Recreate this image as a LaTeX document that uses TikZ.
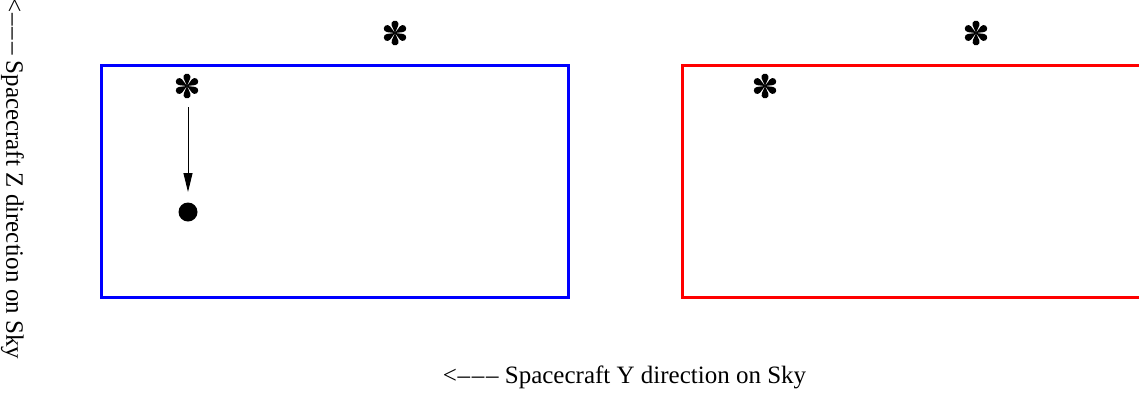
\documentclass[tikz,border=0pt]{standalone}
\usepackage{fontspec}
\setmainfont{Liberation Serif}
\usetikzlibrary{arrows.meta}
\newcommand{\arrowdash}{<\kern0.3pt–\kern0.9pt–\kern0.9pt–}
\begin{document}
\begin{tikzpicture}[x=0.5pt,y=-0.5pt,
  frame/.style={line width=1.5pt},
  lbl/.style={font=\fontsize{12.5}{14}\selectfont, inner sep=0pt},
  ptr/.style={line width=0.5pt, -{Triangle[width=4.5pt,length=9.5pt]}},
  aster/.pic={
    \foreach \a in {90,30,-30,-90,-150,150}
      \fill[rotate=\a] (0,0) -- (23.4:8.15) arc[start angle=113.4, end angle=-113.4, radius=3.55] -- cycle;
    \fill (0,0) circle (1.1);
  }
  ]
\useasboundingbox (0,0) rectangle (1139,392);
\clip (0,0) rectangle (1139,392);
% frames
\draw[frame, blue] (101,65.5) rectangle (568,297.5);
\draw[frame, red] (682,65.5) rectangle (1160,297.5);
% stars
\pic (s1) at (395,33) {aster};
\pic (s2) at (187,86) {aster};
\pic (s3) at (976,33) {aster};
\pic (s4) at (765,86) {aster};
% dot
\node[circle, fill=black, minimum size=9.5pt, inner sep=0pt] (dot) at (188,212) {};
\coordinate (start) at (188,107);
\coordinate (tip) at (188,192);
\draw[ptr] (start) -- (tip);
% labels
\node[lbl, rotate=-90] (yl) at (12.5,179) {\arrowdash\ Spacecraft Z direction on Sky};
\node[lbl] (xl) at (624.5,377) {\arrowdash\ Spacecraft Y direction on Sky};
\end{tikzpicture}
\end{document}
